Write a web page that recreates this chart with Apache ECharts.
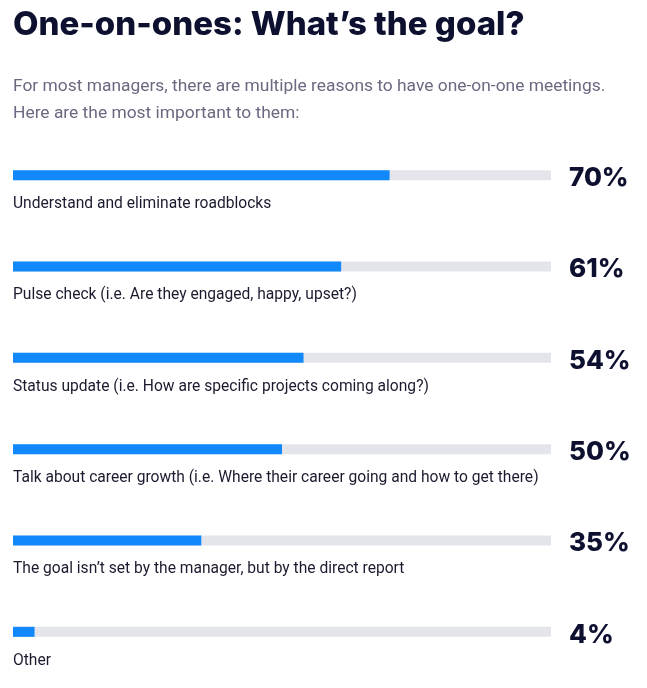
<!DOCTYPE html>
<html><head><meta charset="utf-8">
<script src="https://cdn.jsdelivr.net/npm/echarts@6/dist/echarts.min.js"></script>
<style>html,body{margin:0;padding:0;background:#fff}#c{width:647px;height:688px}</style>
</head><body><div id="c"></div>
<script>
var categories = [
  "Understand and eliminate roadblocks",
  "Pulse check (i.e. Are they engaged, happy, upset?)",
  "Status update (i.e. How are specific projects coming along?)",
  "Talk about career growth (i.e. Where their career going and how to get there)",
  "The goal isn\u2019t set by the manager, but by the direct report",
  "Other"
];
var values = [70, 61, 54, 50, 35, 4];
var trackMax = 100;
var titleText = "One-on-ones: What\u2019s the goal?";
var subtitleText = "For most managers, there are multiple reasons to have one-on-one meetings.\nHere are the most important to them:";

var chart = echarts.init(document.getElementById('c'));
chart.setOption({
  animation: false,
  title: {
    text: titleText,
    subtext: subtitleText,
    left: 13, top: 9, padding: 0,
    itemGap: 31,
    textStyle: {fontFamily: 'Inter', fontWeight: 800, fontSize: 33, color: '#0e1030'},
    subtextStyle: {fontFamily: 'Roboto', fontSize: 17.4, color: '#6a6980', lineHeight: 27}
  },
  grid: {left: 13, right: 96, top: 129.5, bottom: 10.5},
  xAxis: {type: 'value', min: 0, max: trackMax, show: false},
  yAxis: {type: 'category', data: categories, inverse: true, show: false},
  series: [
    {
      type: 'bar', barWidth: 10, silent: true,
      data: categories.map(function(){ return trackMax; }),
      itemStyle: {color: '#e4e5eb'},
      label: {
        show: true, position: 'right', distance: 18,
        formatter: function(p){ return values[p.dataIndex] + '%'; },
        fontFamily: 'Inter', fontWeight: 800, fontSize: 26, color: '#0e1030',
        offset: [0, 3]
      }
    },
    {
      type: 'bar', barWidth: 10, barGap: '-100%', silent: true,
      data: values,
      itemStyle: {color: '#1188fc'},
      label: {
        show: true, position: [0, 26], align: 'left', verticalAlign: 'top',
        formatter: function(p){ return categories[p.dataIndex]; },
        fontFamily: 'Roboto', fontSize: 15.6, color: '#1b1b2f'
      }
    }
  ]
});
</script></body></html>
